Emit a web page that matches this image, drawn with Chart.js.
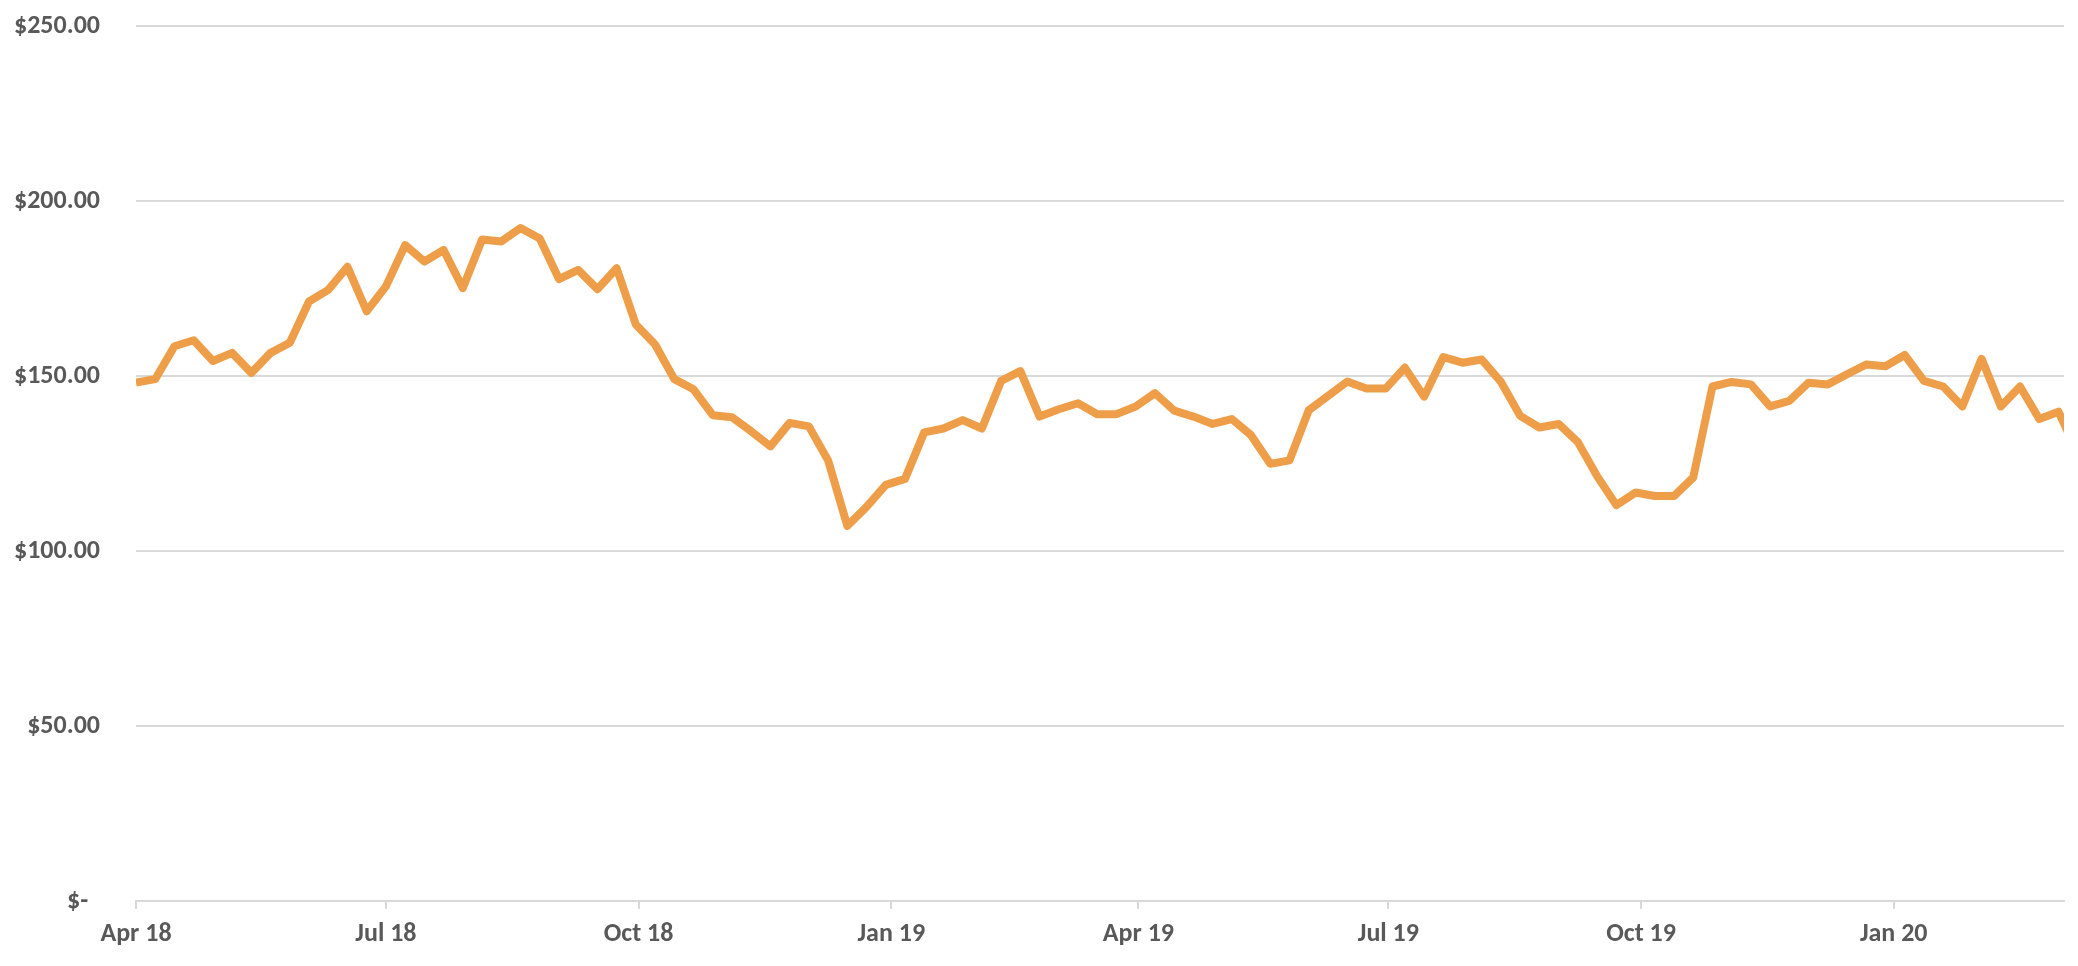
<!DOCTYPE html>
<html>
<head>
<meta charset="utf-8">
<title>Weekly price</title>
<script src="https://cdn.jsdelivr.net/npm/chart.js@4.4.1/dist/chart.umd.min.js"></script>
<style>
  html, body { margin: 0; padding: 0; background: #ffffff; overflow: hidden; }
  #wrap { width: 2078px; height: 966px; position: relative; }
</style>
</head>
<body>
<div id="wrap"><canvas id="priceChart"></canvas></div>
<script>
// weekly closing price, Apr 2018 - Mar 2020
const weekDates = [
  "2018-04-02", "2018-04-09", "2018-04-16", "2018-04-23", "2018-04-30",
  "2018-05-07", "2018-05-14", "2018-05-21", "2018-05-28",
  "2018-06-04", "2018-06-11", "2018-06-18", "2018-06-25",
  "2018-07-02", "2018-07-09", "2018-07-16", "2018-07-23", "2018-07-30",
  "2018-08-06", "2018-08-13", "2018-08-20", "2018-08-27",
  "2018-09-03", "2018-09-10", "2018-09-17", "2018-09-24",
  "2018-10-01", "2018-10-08", "2018-10-15", "2018-10-22", "2018-10-29",
  "2018-11-05", "2018-11-12", "2018-11-19", "2018-11-26",
  "2018-12-03", "2018-12-10", "2018-12-17", "2018-12-24", "2018-12-31",
  "2019-01-07", "2019-01-14", "2019-01-21", "2019-01-28",
  "2019-02-04", "2019-02-11", "2019-02-18", "2019-02-25",
  "2019-03-04", "2019-03-11", "2019-03-18", "2019-03-25",
  "2019-04-01", "2019-04-08", "2019-04-15", "2019-04-22", "2019-04-29",
  "2019-05-06", "2019-05-13", "2019-05-20", "2019-05-27",
  "2019-06-03", "2019-06-10", "2019-06-17", "2019-06-24",
  "2019-07-01", "2019-07-08", "2019-07-15", "2019-07-22", "2019-07-29",
  "2019-08-05", "2019-08-12", "2019-08-19", "2019-08-26",
  "2019-09-02", "2019-09-09", "2019-09-16", "2019-09-23", "2019-09-30",
  "2019-10-07", "2019-10-14", "2019-10-21", "2019-10-28",
  "2019-11-04", "2019-11-11", "2019-11-18", "2019-11-25",
  "2019-12-02", "2019-12-09", "2019-12-16", "2019-12-23", "2019-12-30",
  "2020-01-06", "2020-01-13", "2020-01-20", "2020-01-27",
  "2020-02-03", "2020-02-10", "2020-02-17", "2020-02-24",
  "2020-03-02", "2020-03-09"
];

const prices = [
  148.1, 149.1, 158.5, 160.2, 154.3, 156.6, 150.9, 156.6, 159.5, 171.3,
  174.6, 181.2, 168.5, 175.6, 187.4, 182.7, 186.0, 175.1, 189.0, 188.4,
  192.3, 189.3, 177.7, 180.3, 174.8, 180.8, 164.7, 159.0, 149.1, 146.2,
  138.8, 138.2, 134.2, 129.9, 136.6, 135.6, 125.9, 107.2, 112.6, 118.9,
  120.6, 133.9, 135.0, 137.4, 135.0, 148.6, 151.4, 138.4, 140.5, 142.2,
  139.1, 139.1, 141.3, 145.1, 140.1, 138.4, 136.3, 137.7, 133.1, 124.9,
  125.9, 140.2, 144.3, 148.4, 146.4, 146.4, 152.4, 144.1, 155.4, 153.8,
  154.7, 148.3, 138.6, 135.3, 136.3, 131.1, 121.4, 113.1, 116.7, 115.7,
  115.7, 121.0, 147.0, 148.3, 147.6, 141.3, 142.9, 148.1, 147.6, 150.5,
  153.3, 152.8, 156.0, 148.6, 147.0, 141.3, 154.9, 141.3, 147.0, 137.7,
  139.8, 128.0
];

// x axis: quarterly labels, axis stops a couple of days after the last full week
const tickDates = ["2018-04-02", "2018-07-02", "2018-10-02", "2019-01-02",
                   "2019-04-02", "2019-07-02", "2019-10-02", "2020-01-02"];
const tickLabels = ["Apr 18", "Jul 18", "Oct 18", "Jan 19",
                    "Apr 19", "Jul 19", "Oct 19", "Jan 20"];
const axisStart = "2018-04-02";
const axisEnd = "2020-03-04";

const yTicks = [0, 50, 100, 150, 200, 250];

const LINE_COLOR = "#EE9D48";
const GRID_COLOR = "#D9D9D9";
const TEXT_COLOR = "#595959";
const FONT = { family: "Carlito, Calibri, Lato, sans-serif", size: 26, weight: "bold" };

const DAY = 24 * 3600 * 1000;
function dayOffset(s) {
  return Math.round((Date.parse(s + "T00:00:00Z") - Date.parse(axisStart + "T00:00:00Z")) / DAY);
}

const points = weekDates.map((d, i) => ({ x: dayOffset(d), y: prices[i] }));
const tickDays = tickDates.map(dayOffset);

// accounting style: zero shows as "$-" padded on the right
function moneyLabel(v) {
  if (v === 0) return "$-  ";
  return "$" + v.toFixed(2);
}

const ctx = document.getElementById("priceChart").getContext("2d");
const priceChart = new Chart(ctx, {
  type: "line",
  data: {
    datasets: [{
      data: points,
      borderColor: LINE_COLOR,
      borderWidth: 8,
      borderJoinStyle: "round",
      pointRadius: 0,
      tension: 0,
      fill: false,
      clip: 0
    }]
  },
  options: {
    animation: false,
    responsive: true,
    maintainAspectRatio: false,
    devicePixelRatio: 1,
    layout: { padding: { top: 26, right: 14, left: 0, bottom: 0 } },
    plugins: {
      legend: { display: false },
      tooltip: { enabled: false }
    },
    scales: {
      x: {
        type: "linear",
        min: 0,
        max: dayOffset(axisEnd),
        afterBuildTicks: scale => {
          scale.ticks = tickDays.map(v => ({ value: v }));
        },
        afterFit: scale => { scale.height = 65; },
        ticks: {
          autoSkip: false,
          maxRotation: 0,
          padding: 10,
          color: TEXT_COLOR,
          font: FONT,
          callback: (value, index) => tickLabels[index]
        },
        grid: {
          drawOnChartArea: false,
          drawTicks: true,
          tickLength: 8,
          tickColor: GRID_COLOR,
          tickWidth: 2,
          lineWidth: 2,
          color: GRID_COLOR
        },
        border: { color: GRID_COLOR, width: 2 }
      },
      y: {
        min: 0,
        max: 250,
        afterBuildTicks: scale => {
          scale.ticks = yTicks.map(v => ({ value: v }));
        },
        afterFit: scale => {
          scale.width = 136;
          // tick padding would otherwise push the plot top down
          scale.paddingTop = 0;
          scale.paddingBottom = 0;
        },
        ticks: {
          padding: 36,
          color: TEXT_COLOR,
          font: FONT,
          callback: value => moneyLabel(value)
        },
        grid: {
          color: GRID_COLOR,
          lineWidth: 2,
          drawTicks: false
        },
        border: { display: false }
      }
    }
  }
});
</script>
</body>
</html>
